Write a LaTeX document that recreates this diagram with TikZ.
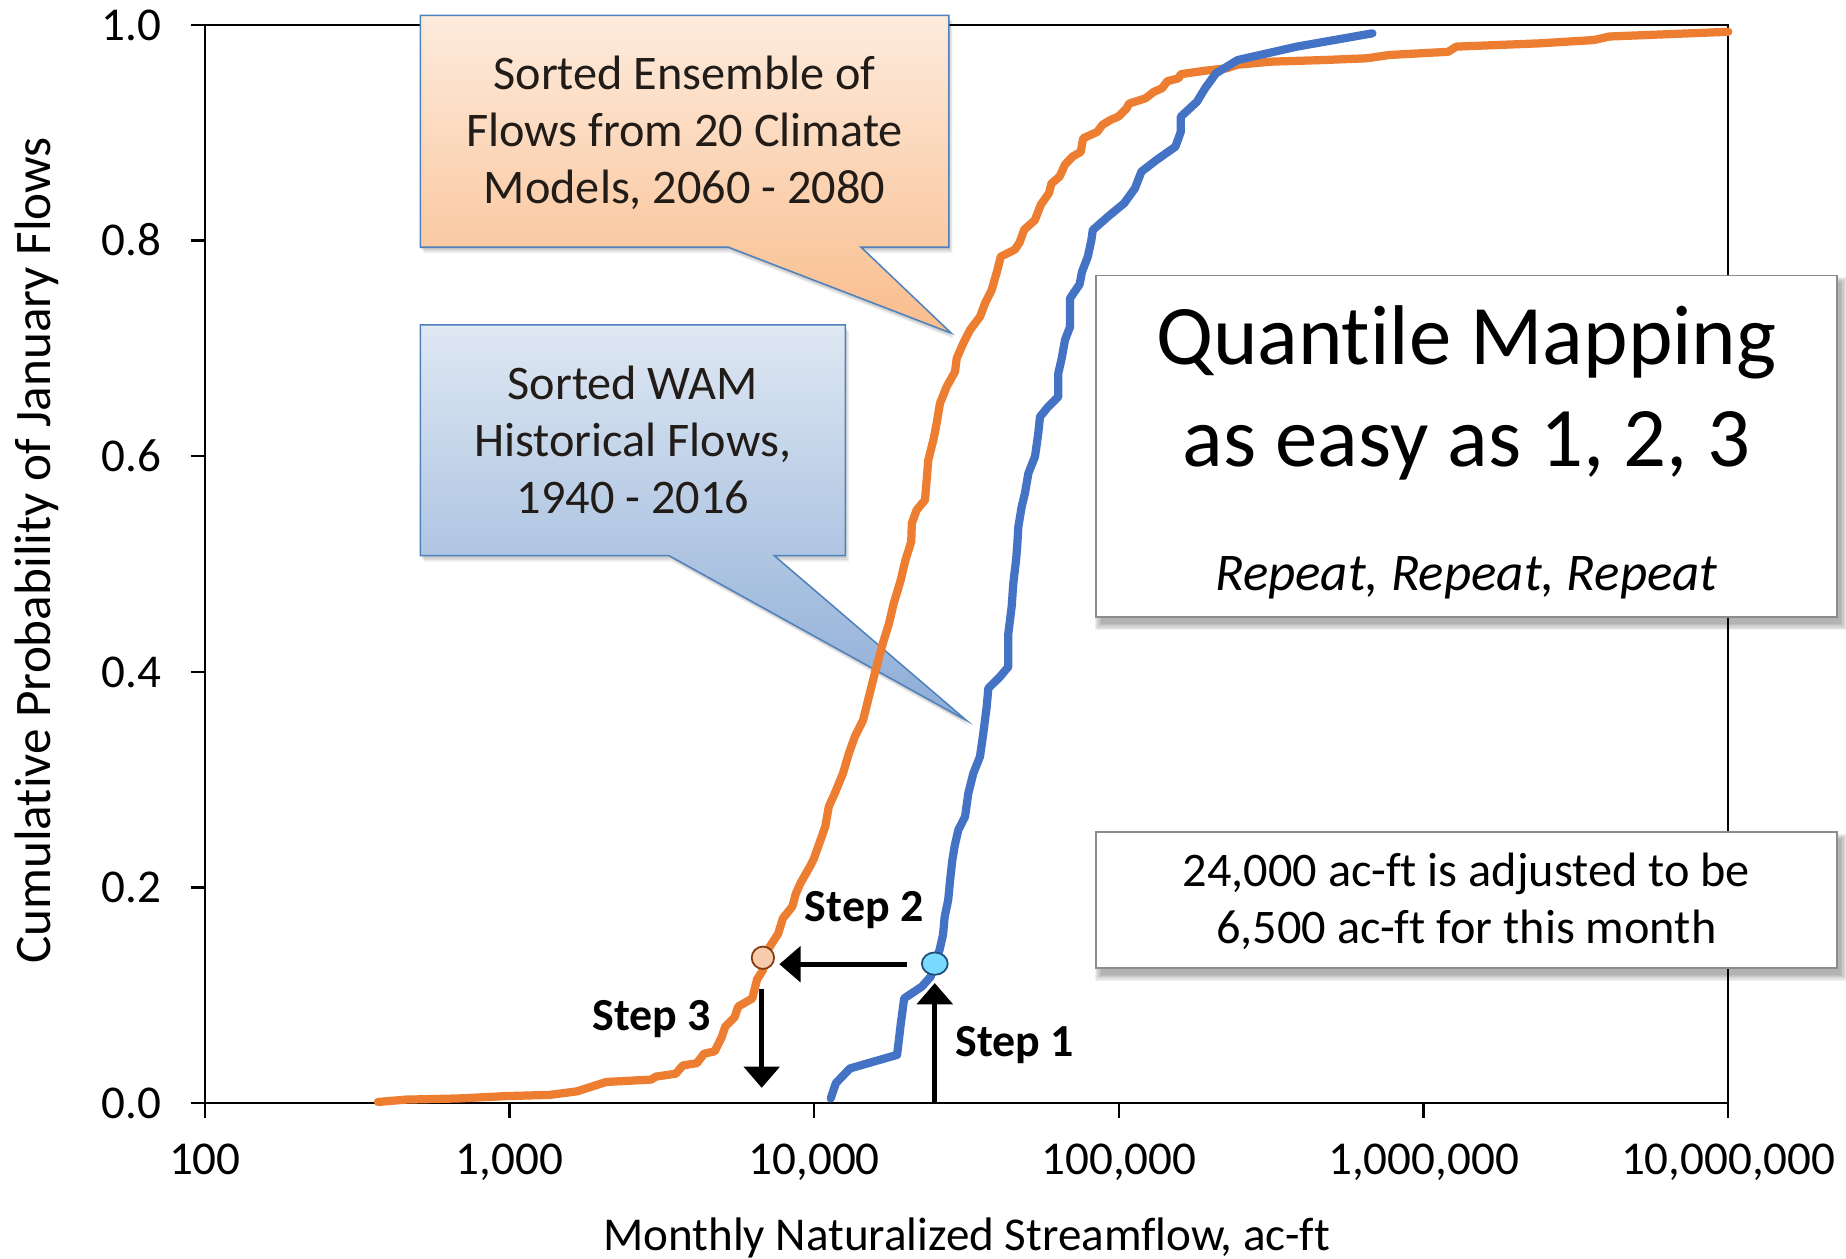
\documentclass[tikz,border=0pt]{standalone}
\usepackage{fontspec}
\setmainfont{Carlito}[Ligatures=NoCommon]
\usetikzlibrary{arrows.meta,shapes.geometric}

\definecolor{curveorange}{HTML}{ED7D31}
\definecolor{curveblue}{HTML}{4472C4}
\definecolor{calloutedge}{HTML}{4F81BD}
\definecolor{peachtop}{HTML}{FDEBDD}
\definecolor{peachbot}{HTML}{F9BD8C}
\definecolor{bluetop}{HTML}{DFE8F3}
\definecolor{bluebot}{HTML}{8CACD6}
\definecolor{boxedge}{HTML}{8C8C8C}
\definecolor{dotorange}{HTML}{F8CBAD}
\definecolor{dotorangeedge}{HTML}{843C0C}
\definecolor{dotblue}{HTML}{79D9FF}
\definecolor{dotblueedge}{HTML}{1F4E79}
\definecolor{calltext}{HTML}{221C18}

% outlines of the two speech-bubble callouts
\def\orangecallout{(357,13) -- (806,13) -- (806,210) -- (731.4,210) -- (808,283) -- (618.7,210) -- (357,210) -- cycle}
\def\bluecallout{(357,276) -- (718,276) -- (718,472) -- (657.7,472) -- (821,612) -- (568.3,472) -- (357,472) -- cycle}

\begin{document}
\begin{tikzpicture}[x=1pt,y=-1pt,
  frame/.style={line width=2pt,black},
  tickmark/.style={line width=2pt,black},
  lbl/.style={inner sep=0pt,anchor=base},
  ticklbl/.style={lbl,font=\fontsize{40}{48}\selectfont},
  calltxt/.style={lbl,text=calltext,font=\fontsize{41}{49}\selectfont},
  notetxt/.style={lbl,font=\fontsize{41}{49}\selectfont},
  steplbl/.style={lbl,font=\fontsize{39}{47}\bfseries\selectfont},
  curve/.style={line width=7pt,line cap=round,line join=round},
  steparrow/.style={line width=4pt,-{Triangle[width=30pt,length=18pt]}},
  whitebox/.style={fill=white,draw=boxedge,line width=1.6pt},
  calloutline/.style={draw=calloutedge,line width=1.3pt}
]
\fill[white] (0,0) rectangle (1568,1069);
\useasboundingbox (0,0) rectangle (1568,1069);

% plot frame and ticks
\draw[frame] (174,21) rectangle (1468,937);
\foreach \yy/\lab [count=\i] in {21/1.0,204.2/0.8,387.4/0.6,570.6/0.4,753.8/0.2,937/0.0}{
  \draw[tickmark] (162,\yy) -- (174,\yy);
  \node[ticklbl,anchor=base east] (ylab\i) at (137,\yy+13) {\lab};
}
\foreach \xx/\lab [count=\i] in {174/100,432.8/{1,000},691.6/{10,000},950.4/{100,000},1209.2/{1,000,000},1468/{10,000,000}}{
  \draw[tickmark] (\xx,937) -- (\xx,950);
  \node[ticklbl] (xlab\i) at (\xx,998) {\lab};
}

% axis titles
\node[lbl,font=\fontsize{40}{48}\selectfont] (xtitle) at (821,1062) {Monthly Naturalized Streamflow, ac-ft};
\node[lbl,rotate=90,font=\fontsize{43.5}{50}\selectfont] (ytitle) at (42.5,467.5) {Cumulative Probability of January Flows};

% callout shadows and bodies
\foreach \dx/\dy in {1/2,2/3.5,3/5}{
  \fill[black,opacity=0.07,shift={(\dx,\dy)}] \orangecallout;
  \fill[black,opacity=0.07,shift={(\dx,\dy)}] \bluecallout;
}
\path[calloutline,top color=peachtop,bottom color=peachbot] \orangecallout;
\path[calloutline,top color=bluetop,bottom color=bluebot] \bluecallout;

\node[calltxt] (ens1) at (581.5,76.4) {Sorted Ensemble of};
\node[calltxt] (ens2) at (581.5,124.8) {Flows from 20 Climate};
\node[calltxt] (ens3) at (581.5,173.2) {Models, 2060 - 2080};

\node[calltxt] (wam1) at (537.5,339) {Sorted WAM};
\node[calltxt] (wam2) at (537.5,387.4) {Historical Flows,};
\node[calltxt] (wam3) at (537.5,435.8) {1940 - 2016};

% flow duration curves
\draw[curve,curveorange] plot coordinates {
(321,936) (345,934) (390,933) (430,931) (467,930) (490,927) (515,919) (553,917)
(557,914.5) (574,912) (580,905) (592,903) (598,895) (607,893) (613,881) (616,872)
(624,864) (627,855) (639,848) (643,832) (648,824) (652,807) (661,793) (665,780)
(673,770) (676,759) (680,750) (688,736) (691,730) (695,719) (701,702) (704,685)
(709,674) (716,657) (721,640) (726,626) (733,612) (738,592) (743,572) (750,546)
(755,530) (759,513) (765,493) (769,476) (774,460) (774.5,444.5) (778.6,433.2)
(785.7,424.7) (787.1,407.7) (788.5,390.7) (792.8,373.7) (795.6,359.6) (798.4,342.6)
(804.1,328.4) (811.2,315.7) (812.6,304.4) (818.2,291.6) (823.9,280.3) (832.4,269)
(836.7,257.6) (842.3,246.3) (847,230) (850,218) (862,212) (866,206) (870,195)
(879,187) (884,174) (891,164) (893,156) (900,150) (904.5,140) (911,133) (918,129)
(920,117.5) (932,112) (936.5,106) (943,102) (950,99) (957,92) (959,88) (973,83.5)
(980,78) (987,75) (991.5,69) (1001,66.5) (1003,63) (1024,60) (1042,58) (1051,55)
(1079,52.4) (1124,51) (1161,49.5) (1180,46.7) (1230,44) (1237,39.6) (1308,36.8)
(1354,34) (1367,31) (1468,27)};

\draw[curve,curveblue] plot coordinates {
(705.6,933) (710,920) (722,907.5) (762,896) (765,870.6) (768,848) (783,838)
(790.5,829.6) (793.5,819.7) (798,807) (801,794) (802.4,778.6) (805.4,764.5)
(807,747.5) (809,730) (811,718) (814,705) (819.7,693.7) (822.5,673.8) (826.7,656.9)
(832.4,642.7) (835.2,622.9) (838.1,600.3) (839.5,584.6) (849.4,574.8) (856.5,566.3)
(856.5,537.9) (859.3,515.3) (860.7,495.5) (863,476) (864,464) (865,447.4)
(867.8,430.4) (870.6,419) (873.5,402) (879.1,387.9) (881.9,368.1) (883.4,353.9)
(890.4,345.4) (898.9,336.9) (898.9,317.1) (901.8,304.4) (904.6,288.8) (908.9,277.5)
(908.9,253.4) (917,241.5) (919,231) (924,218) (927,204) (928.2,195.4) (941.1,184)
(954.8,172.7) (964,160) (969.5,145.8) (982.3,135.9) (998.4,124.6) (1003,111.8)
(1003,99.1) (1016.7,86.4) (1023.6,75) (1032.8,62.3) (1051.2,51) (1101.5,39.6)
(1165.7,28.3)};

% mapped points
\node[circle,draw=dotorangeedge,fill=dotorange,line width=1.5pt,minimum size=19pt,inner sep=0pt] (orangedot) at (648,813.5) {};
\node[ellipse,draw=dotblueedge,fill=dotblue,line width=1.5pt,minimum width=22pt,minimum height=19pt,inner sep=0pt] (bluedot) at (794,818.5) {};

% the three steps
\coordinate (s1from) at (794,937);
\coordinate (s1to) at (794,835);
\coordinate (s2from) at (770,819);
\coordinate (s2to) at (662,819);
\coordinate (s3from) at (647,840);
\coordinate (s3to) at (647,924);
\draw[steparrow] (s1from) -- (s1to);
\draw[steparrow] (s2from) -- (s2to);
\draw[steparrow] (s3from) -- (s3to);
\node[steplbl] (step1) at (862,897.6) {Step 1};
\node[steplbl] (step2) at (734,783) {Step 2};
\node[steplbl] (step3) at (553.6,875) {Step 3};

% white text boxes with soft shadows
\foreach \k in {0,...,5}{
  \fill[black,opacity=0.055] (935-\k,240-\k) rectangle (1564+\k,530+\k);
  \fill[black,opacity=0.055] (935-\k,713-\k) rectangle (1564+\k,828+\k);
}
\path[whitebox] (931,234) rectangle (1560,524);
\path[whitebox] (931,707) rectangle (1560,822);

\node[lbl,font=\fontsize{72}{86}\selectfont] (title1) at (1245.5,310) {Quantile Mapping};
\node[lbl,font=\fontsize{72}{86}\selectfont] (title2) at (1245.5,396.4) {as easy as 1, 2, 3};
\node[lbl,font=\fontsize{45}{54}\itshape\selectfont] (title3) at (1245.5,501.2) {Repeat, Repeat, Repeat};

\node[notetxt] (note1) at (1245.5,753) {24,000 ac-ft is adjusted to be};
\node[notetxt] (note2) at (1245.5,801.4) {6,500 ac-ft for this month};
\end{tikzpicture}
\end{document}
